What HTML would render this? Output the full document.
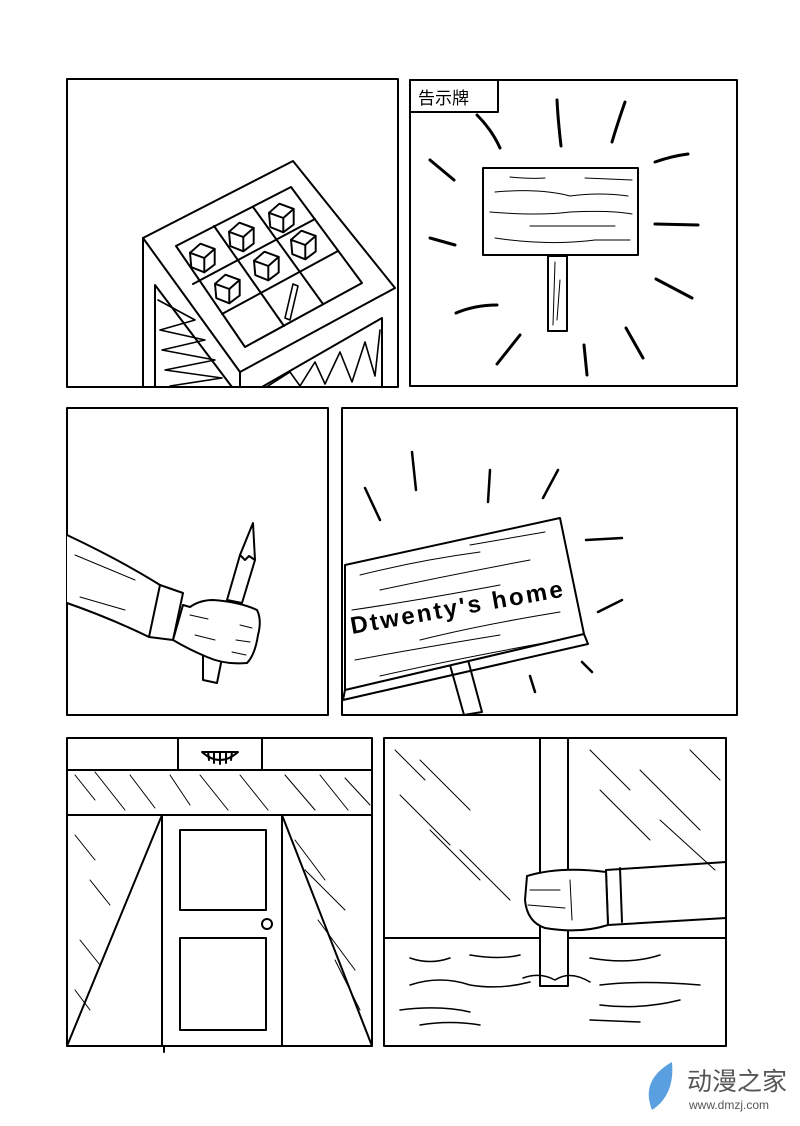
<!DOCTYPE html>
<html><head><meta charset="utf-8"><style>
html,body{margin:0;padding:0;background:#fff;}
svg{display:block;}
</style></head><body>
<svg width="800" height="1126" viewBox="0 0 800 1126" xmlns="http://www.w3.org/2000/svg" fill="none" stroke="#000" stroke-width="2" stroke-linecap="round" stroke-linejoin="round">
<rect width="800" height="1126" fill="#fff" stroke="none"/>
<defs>
<g id="cube" stroke-width="1.5" transform="scale(1.3)">
<polygon points="-10,-4 -2,-11 9,-7 9,5 1,11 -9,7"/>
<polyline points="-10,-4 1,0 9,-7"/>
<line x1="1" y1="0" x2="1" y2="11"/>
</g>
</defs>
<!-- Panel 1 -->
<rect x="67" y="79" width="331" height="308"/>
<polygon points="143,238 293,161 395,288 240,372" fill="#fff"/>
<polygon points="176,246 291,187 362,283 245,347"/>
<line x1="214" y1="226" x2="284" y2="326"/>
<line x1="253" y1="207" x2="323" y2="304"/>
<line x1="193" y1="284" x2="315" y2="219"/>
<line x1="222" y1="314" x2="338" y2="251"/>
<line x1="143" y1="238" x2="143" y2="387"/>
<line x1="240" y1="372" x2="240" y2="387"/>
<polyline points="155,387 155,285 232,387"/>
<polyline points="262,387 382,318 382,387"/>
<use href="#cube" x="203" y="258"/>
<use href="#cube" x="242" y="237"/>
<use href="#cube" x="282" y="218"/>
<use href="#cube" x="228" y="289"/>
<use href="#cube" x="267" y="266"/>
<use href="#cube" x="304" y="245"/>
<polygon points="285,318 293,284 298,286 290,320" stroke-width="1.6"/>
<g stroke-width="1.6">
<polyline points="158,300 195,320 160,330 205,340 162,350 215,360 165,370 222,378 170,386"/>
<polyline points="268,386 290,372 300,386 315,362 325,384 340,352 352,382 365,342 375,376 380,330"/>
</g>
<!-- Panel 2 -->
<rect x="410" y="80" width="327" height="306"/>
<rect x="410" y="80" width="88" height="32"/>
<text x="418" y="104" font-family="Liberation Sans,'Noto Sans CJK SC',sans-serif" font-size="17" fill="#000" stroke="none">告示牌</text>
<rect x="483" y="168" width="155" height="87"/>
<rect x="548" y="256" width="19" height="75"/>
<g stroke-width="1">
<path d="M510 177 Q530 179 545 178 M585 178 L632 180 M495 192 Q540 188 570 196 Q600 192 628 196 M490 212 Q540 216 570 212 Q610 210 632 214 M530 226 L615 226 M495 238 Q550 246 595 240 L630 240 M555 262 L553 325 M560 280 L557 320"/>
</g>
<g stroke-width="3">
<path d="M477 115 Q492 130 500 148 M557 100 Q558 120 561 146 M625 102 Q617 125 612 142 M430 160 L454 180 M655 162 Q672 156 688 154 M430 238 L455 245 M655 224 L698 225 M656 279 L692 298 M456 313 Q475 305 497 305 M520 335 L497 364 M584 345 L587 375 M626 328 L643 358"/>
</g>
<!-- Panel 3 -->
<rect x="67" y="408" width="261" height="307"/>
<polygon points="227,600 240,555 253,523 255,560 242,603" fill="#fff"/>
<path d="M240 555 L245 560 L249 556 L255 560"/>
<path d="M67 535 Q120 560 160 585 L183 593 L173 640 L149 637 Q110 618 67 603" fill="#fff"/>
<path d="M160 585 L149 637"/>
<polygon points="203,655 203,680 217,683 222,658" fill="#fff"/>
<path d="M183 605 L190 607 Q200 600 213 600 Q240 602 257 610 Q262 620 258 635 Q255 655 247 663 Q225 665 207 657 Q190 650 173 640 Z" fill="#fff"/>
<g stroke-width="1"><path d="M75 555 L135 580 M80 597 L125 610 M190 615 L208 619 M195 635 L215 640 M240 625 L252 628 M236 640 L250 642 M232 652 L246 655"/></g>
<!-- Panel 4 -->
<rect x="342" y="408" width="395" height="307"/>
<polygon points="450,665 468,660 482,712 464,715" fill="#fff"/>
<polygon points="345,565 560,518 584,634 345,690" fill="#fff"/>
<path d="M345 690 L343 700 L588 644 L584 634"/>
<g stroke-width="1">
<path d="M360 575 Q420 560 480 552 M380 590 Q450 575 530 560 M352 610 Q420 600 500 585 M420 640 Q480 625 560 612 M355 660 Q420 648 500 635 M380 676 Q450 660 560 640 M470 545 L545 532"/>
</g>
<text x="0" y="0" transform="translate(352,634) rotate(-10)" font-family="Liberation Sans,sans-serif" font-size="24" font-weight="bold" fill="#000" stroke="none" textLength="215">Dtwenty's home</text>
<g stroke-width="2.5">
<path d="M412 452 L416 490 M365 488 L380 520 M490 470 L488 502 M558 470 L543 498 M586 540 L622 538 M598 612 L622 600 M582 662 L592 672 M530 676 L535 692"/>
</g>
<!-- Panel 5 -->
<rect x="67" y="738" width="305" height="308"/>
<line x1="67" y1="770" x2="372" y2="770"/>
<line x1="67" y1="815" x2="372" y2="815"/>
<rect x="178" y="738" width="84" height="32"/>
<path d="M202 752 Q220 768 238 752 Z" fill="#fff"/>
<path d="M208 752 L209 760 M214 752 L214 763 M220 752 L220 764 M226 752 L226 763 M232 752 L231 760"/>
<rect x="162" y="815" width="120" height="231" fill="#fff"/>
<rect x="180" y="830" width="86" height="80"/>
<rect x="180" y="938" width="86" height="92"/>
<circle cx="267" cy="924" r="5"/>
<line x1="162" y1="815" x2="67" y2="1046"/>
<line x1="282" y1="815" x2="372" y2="1046"/>
<line x1="164" y1="1046" x2="164" y2="1052"/>
<g stroke-width="1">
<path d="M75 775 L95 800 M95 772 L125 810 M130 775 L155 808 M170 775 L190 805 M200 775 L228 810 M240 775 L268 810 M285 775 L315 810 M320 775 L348 810 M345 778 L370 805 M75 835 L95 860 M90 880 L110 905 M80 940 L100 965 M75 990 L90 1010 M295 840 L325 880 M305 870 L345 910 M318 920 L355 970 M335 960 L360 1010"/>
</g>
<!-- Panel 6 -->
<rect x="384" y="738" width="342" height="308"/>
<line x1="384" y1="938" x2="726" y2="938"/>
<rect x="540" y="738" width="28" height="248" fill="#fff"/>
<path d="M523 978 Q540 972 555 980 Q570 970 590 982 M410 985 Q440 975 470 985 Q500 990 530 982 M600 985 Q640 980 700 985 M410 958 Q430 965 450 958 M470 955 Q500 960 520 955 M590 958 Q630 965 660 955 M400 1010 Q440 1005 470 1012 M600 1005 Q640 1010 680 1000 M420 1025 Q450 1020 480 1025 M590 1020 L640 1022" stroke-width="1.5"/>
<g stroke-width="1">
<path d="M395 750 L425 780 M420 760 L470 810 M400 795 L450 845 M430 830 L480 880 M460 850 L510 900 M590 750 L630 790 M600 790 L650 840 M640 770 L700 830 M660 820 L715 870 M690 750 L720 780"/>
</g>
<path d="M606 870 L726 862 M608 925 L726 918 M606 870 L608 925 M620 868 L622 922" />
<path d="M527 876 Q560 866 606 872 L608 925 Q580 934 545 928 Q527 922 525 900 Z" fill="#fff"/>
<g stroke-width="1"><path d="M530 890 L560 890 M528 905 L565 908 M570 880 L572 920"/></g>
<!-- logo -->
<path d="M672 1062 Q640 1080 652 1110 Q675 1095 672 1062 Z" fill="#5aa0e0" stroke="none"/>
<text x="687" y="1090" font-family="Liberation Sans,'Noto Sans CJK SC',sans-serif" font-size="25" fill="#555" stroke="none">动漫之家</text>
<text x="689" y="1109" font-family="Liberation Sans,sans-serif" font-size="12" fill="#555" stroke="none">www.dmzj.com</text>
</svg>
</body></html>
